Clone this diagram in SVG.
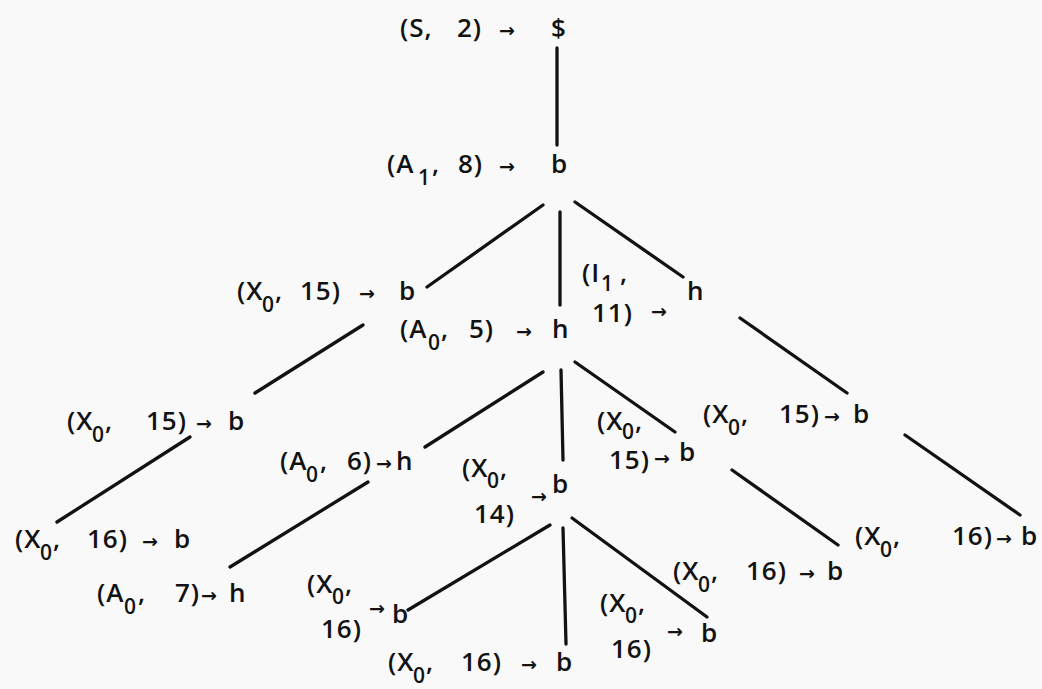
<svg xmlns="http://www.w3.org/2000/svg" width="1042" height="689" viewBox="0 0 1042 689">
<style>
.t{font-family:"Open Sans","DejaVu Sans",sans-serif;font-size:26px;font-weight:600;fill:#121212;letter-spacing:1px}
.s{font-size:21px}
.a{font-family:"DejaVu Sans",sans-serif;font-size:19px;font-weight:700}
.c line{stroke:#121212;stroke-width:3.3;stroke-linecap:round}
</style>
<rect width="1042" height="689" fill="#f9f9f9"/>
<g class="c" id="connectors">
<line x1="557" y1="48" x2="557" y2="145"/>
<line x1="543" y1="205" x2="427" y2="287"/>
<line x1="560" y1="212" x2="560" y2="305"/>
<line x1="575" y1="202" x2="683" y2="277"/>
<line x1="363" y1="325" x2="255" y2="393"/>
<line x1="190" y1="437" x2="57" y2="522"/>
<line x1="543" y1="372" x2="425" y2="447"/>
<line x1="368" y1="482" x2="230" y2="567"/>
<line x1="561" y1="370" x2="563" y2="460"/>
<line x1="575" y1="362" x2="675" y2="432"/>
<line x1="740" y1="318" x2="847" y2="393"/>
<line x1="905" y1="435" x2="1020" y2="515"/>
<line x1="732" y1="470" x2="838" y2="545"/>
<line x1="550" y1="525" x2="408" y2="610"/>
<line x1="563" y1="528" x2="566" y2="644"/>
<line x1="572" y1="518" x2="707" y2="617"/>
</g>
<g id="n-root"><text class="t" y="37"><tspan x="400">(S,</tspan><tspan x="457">2)</tspan><tspan x="499" class="a">→</tspan><tspan x="551">$</tspan></text></g>
<g id="n-a1-8"><text class="t" y="173"><tspan x="387">(A</tspan><tspan x="418" dy="12" class="s">1</tspan><tspan x="432" dy="-12">,</tspan><tspan x="458">8)</tspan><tspan x="499" class="a">→</tspan><tspan x="551">b</tspan></text></g>
<g id="n-x0-15-a"><text class="t" y="300"><tspan x="237">(X</tspan><tspan x="262" dy="12" class="s">0</tspan><tspan x="275" dy="-12">,</tspan><tspan x="300">15)</tspan><tspan x="359" class="a">→</tspan><tspan x="399">b</tspan></text></g>
<g id="n-a0-5"><text class="t" y="338"><tspan x="400">(A</tspan><tspan x="428" dy="12" class="s">0</tspan><tspan x="441" dy="-12">,</tspan><tspan x="469">5)</tspan><tspan x="516" class="a">→</tspan><tspan x="552">h</tspan></text></g>
<g id="n-i1-11"><text class="t" y="282"><tspan x="582">(I</tspan><tspan x="601" dy="9" class="s">1</tspan><tspan x="620" dy="-9">,</tspan></text><text class="t" y="322"><tspan x="592">11)</tspan><tspan x="651" class="a" dy="-4">→</tspan></text><text class="t" x="687" y="300">h</text></g>
<g id="n-x0-15-b"><text class="t" y="430"><tspan x="67">(X</tspan><tspan x="92" dy="12" class="s">0</tspan><tspan x="105" dy="-12">,</tspan><tspan x="146">15)</tspan><tspan x="196" class="a">→</tspan><tspan x="228">b</tspan></text></g>
<g id="n-x0-16-a"><text class="t" y="548"><tspan x="15">(X</tspan><tspan x="40" dy="12" class="s">0</tspan><tspan x="53" dy="-12">,</tspan><tspan x="87">16)</tspan><tspan x="142" class="a">→</tspan><tspan x="174">b</tspan></text></g>
<g id="n-a0-6"><text class="t" y="470"><tspan x="280">(A</tspan><tspan x="306" dy="12" class="s">0</tspan><tspan x="320" dy="-12">,</tspan><tspan x="347">6)</tspan><tspan x="376" class="a">→</tspan><tspan x="396">h</tspan></text></g>
<g id="n-a0-7"><text class="t" y="602"><tspan x="97">(A</tspan><tspan x="124" dy="12" class="s">0</tspan><tspan x="138" dy="-12">,</tspan><tspan x="175">7)</tspan><tspan x="201" class="a">→</tspan><tspan x="229">h</tspan></text></g>
<g id="n-x0-14"><text class="t" y="477"><tspan x="462">(X</tspan><tspan x="487" dy="11" class="s">0</tspan><tspan x="500" dy="-11">,</tspan></text><text class="t" y="523"><tspan x="474">14)</tspan></text><text class="t a" x="531" y="503">→</text><text class="t" x="552" y="493">b</text></g>
<g id="n-x0-15-c"><text class="t" y="430"><tspan x="597">(X</tspan><tspan x="622" dy="9" class="s">0</tspan><tspan x="635" dy="-9">,</tspan></text><text class="t" y="469"><tspan x="609">15)</tspan><tspan x="654" class="a" dy="-4">→</tspan></text><text class="t" x="679" y="461">b</text></g>
<g id="n-x0-15-d"><text class="t" y="423"><tspan x="703">(X</tspan><tspan x="728" dy="12" class="s">0</tspan><tspan x="741" dy="-12">,</tspan><tspan x="779">15)</tspan><tspan x="824" class="a">→</tspan><tspan x="853">b</tspan></text></g>
<g id="n-x0-16-b"><text class="t" y="545"><tspan x="855">(X</tspan><tspan x="880" dy="12" class="s">0</tspan><tspan x="893" dy="-12">,</tspan><tspan x="952">16)</tspan><tspan x="996" class="a">→</tspan><tspan x="1021">b</tspan></text></g>
<g id="n-x0-16-c"><text class="t" y="580"><tspan x="673">(X</tspan><tspan x="698" dy="12" class="s">0</tspan><tspan x="711" dy="-12">,</tspan><tspan x="746">16)</tspan><tspan x="799" class="a">→</tspan><tspan x="827">b</tspan></text></g>
<g id="n-x0-16-d"><text class="t" y="612"><tspan x="600">(X</tspan><tspan x="625" dy="11" class="s">0</tspan><tspan x="638" dy="-11">,</tspan></text><text class="t" y="658"><tspan x="611">16)</tspan></text><text class="t a" x="667" y="638">→</text><text class="t" x="701" y="642">b</text></g>
<g id="n-x0-16-e"><text class="t" y="593"><tspan x="307">(X</tspan><tspan x="332" dy="11" class="s">0</tspan><tspan x="345" dy="-11">,</tspan></text><text class="t" y="638"><tspan x="321">16)</tspan></text><text class="t a" x="369" y="615">→</text><text class="t" x="392" y="623">b</text></g>
<g id="n-x0-16-f"><text class="t" y="671"><tspan x="388">(X</tspan><tspan x="413" dy="12" class="s">0</tspan><tspan x="426" dy="-12">,</tspan><tspan x="461">16)</tspan><tspan x="521" class="a">→</tspan><tspan x="556">b</tspan></text></g>
</svg>
